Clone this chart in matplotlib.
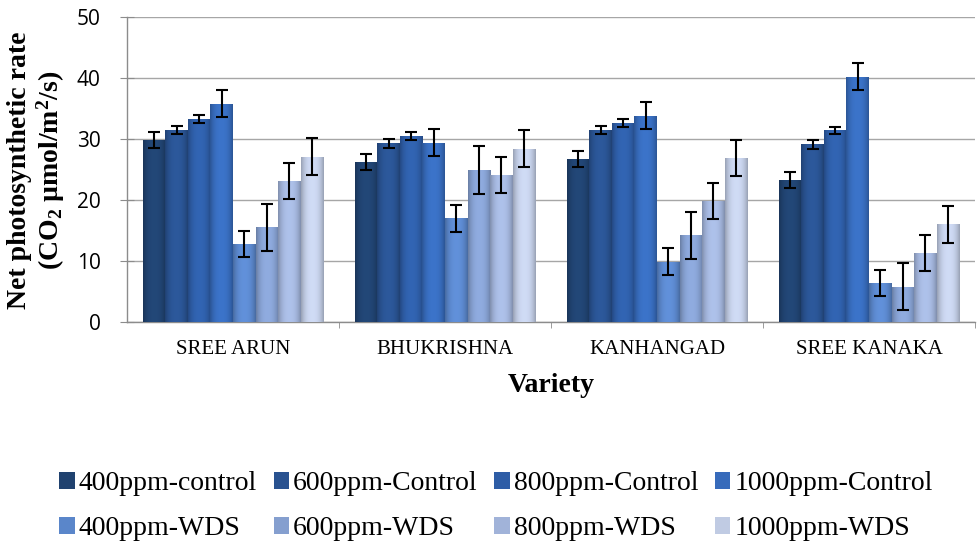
import numpy as np
import matplotlib
matplotlib.use("Agg")
import matplotlib.pyplot as plt
from matplotlib.colors import to_rgb
from matplotlib.ticker import FixedLocator

varieties = ["SREE ARUN", "BHUKRISHNA", "KANHANGAD", "SREE KANAKA"]
series_names = [
    "400ppm-control", "600ppm-Control", "800ppm-Control", "1000ppm-Control",
    "400ppm-WDS", "600ppm-WDS", "800ppm-WDS", "1000ppm-WDS",
]

# values per series, one entry per variety
c400 = [29.8, 26.3, 26.7, 23.3]
c600 = [31.5, 29.3, 31.5, 29.1]
c800 = [33.3, 30.5, 32.6, 31.4]
c1000 = [35.8, 29.4, 33.8, 40.2]
w400 = [12.8, 17.0, 9.9, 6.4]
w600 = [15.5, 24.9, 14.2, 5.8]
w800 = [23.1, 24.1, 19.9, 11.3]
w1000 = [27.1, 28.4, 26.9, 16.0]

# error bars (same for each variety within a series)
err = [1.3, 0.7, 0.6, 2.2, 2.2, 3.9, 2.95, 3.0]

colors = ["#20426f", "#295290", "#2e5da6", "#376bbb",
          "#5a86ca", "#859fcf", "#a1b3d9", "#c0cbe3"]

values = [c400, c600, c800, c1000, w400, w600, w800, w1000]


def bevel(color):
    # horizontal shading: darker edges, lighter middle
    base = np.array(to_rgb(color))
    t = np.linspace(-1, 1, 40)
    shade = 1.08 - 0.28 * np.abs(t) ** 2.5
    row = np.clip(base[None, :] * shade[:, None], 0, 1)
    return row[None, :, :]


fig = plt.figure(figsize=(9.77, 5.48), dpi=100)
ax = fig.add_axes([127 / 977, 1 - 322 / 548, (975 - 127) / 977, (322 - 17) / 548])

x = np.arange(len(varieties))
width = 0.1066
handles = []
for j, (vals, name) in enumerate(zip(values, series_names)):
    pos = x + (j - 3.5) * width
    bars = ax.bar(pos, vals, width, color=colors[j], edgecolor="none",
                  label=name, zorder=3)
    handles.append(bars)
    img = bevel(colors[j])
    for b in bars:
        im = ax.imshow(img, extent=[b.get_x(), b.get_x() + b.get_width(), 0, b.get_height()],
                       aspect="auto", zorder=3.5, interpolation="bilinear")
        im.set_clip_path(b)
    ax.errorbar(pos, vals, yerr=err[j], fmt="none", ecolor="black",
                elinewidth=1.5, capsize=4.5, capthick=1.5, zorder=4)

ax.set_xlim(-0.5, 3.5)
ax.set_ylim(0, 50)
ax.set_yticks(range(0, 51, 10))
ax.grid(axis="y", color="#a6a6a6", linewidth=1, zorder=0)
ax.set_axisbelow(True)

for side in ["top", "right"]:
    ax.spines[side].set_visible(False)
for side in ["left", "bottom"]:
    ax.spines[side].set_color("#8c8c8c")
    ax.spines[side].set_linewidth(1)

ax.set_xticks(x)
ax.set_xticklabels(varieties, fontfamily="Liberation Serif", fontsize=15)
ax.tick_params(axis="x", which="major", length=0, pad=13)
ax.xaxis.set_minor_locator(FixedLocator([0.5, 1.5, 2.5, 3.5]))
ax.tick_params(axis="x", which="minor", length=4.5, color="#8c8c8c", direction="out")

ax.tick_params(axis="y", direction="inout", length=10, color="#8c8c8c", pad=14)
for lbl in ax.get_yticklabels():
    lbl.set_fontfamily("Open Sans")
    lbl.set_fontsize(15)

fig.text(37 / 977, 1 - 170 / 548,
         "Net photosynthetic rate\n(CO$\\mathregular{_2}$ µmol/m$\\mathregular{^2}$/s)",
         rotation=90, ha="center", va="center", fontfamily="Liberation Serif",
         fontweight="bold", fontsize=20, linespacing=1.1, multialignment="center")

fig.text(551 / 977, 1 - 385 / 548, "Variety", ha="center", va="center",
         fontfamily="Liberation Serif", fontweight="bold", fontsize=20)

# legend filled row by row like the original
order = [0, 4, 1, 5, 2, 6, 3, 7]
ax.legend([handles[i] for i in order], [series_names[i] for i in order],
          loc="center", bbox_to_anchor=(496 / 977, 1 - 506 / 548),
          bbox_transform=fig.transFigure, ncol=4, frameon=False,
          prop={"family": "Liberation Serif", "size": 20},
          handlelength=0.55, handleheight=0.55, handletextpad=0.15,
          columnspacing=0.6, labelspacing=0.72, borderpad=0)

fig.savefig("out.png", dpi=100)
